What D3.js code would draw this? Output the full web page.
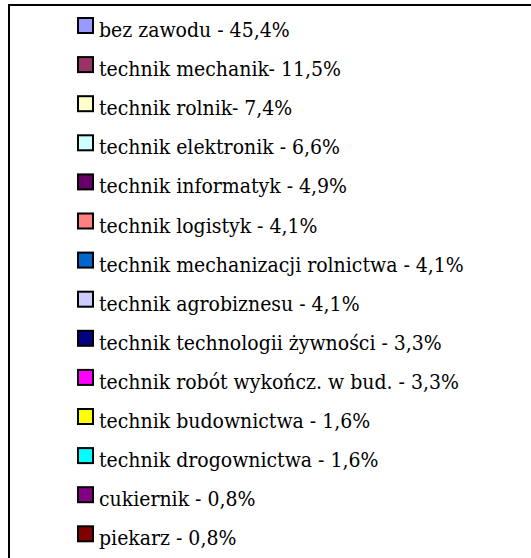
<!DOCTYPE html>
<html>
<head>
<meta charset="utf-8">
<script src="https://cdn.jsdelivr.net/npm/d3@7"></script>
<style>
  html, body { margin: 0; padding: 0; background: #fff; }
  svg { display: block; }
  .legend-text { font-family: "DejaVu Serif Condensed", "DejaVu Serif", serif; font-stretch: condensed; }
</style>
</head>
<body>
<svg id="chart" width="531" height="558"></svg>
<script>
// legend entries (name part keeps the original separator)
var names = [
  "bez zawodu -",
  "technik mechanik-",
  "technik rolnik-",
  "technik elektronik -",
  "technik informatyk -",
  "technik logistyk -",
  "technik mechanizacji rolnictwa -",
  "technik agrobiznesu -",
  "technik technologii żywności -",
  "technik robót wykończ. w bud. -",
  "technik budownictwa -",
  "technik drogownictwa -",
  "cukiernik -",
  "piekarz -"
];
var values = [45.4, 11.5, 7.4, 6.6, 4.9, 4.1, 4.1, 4.1, 3.3, 3.3, 1.6, 1.6, 0.8, 0.8];
var colors = [
  "#9999ff", "#993366", "#ffffcc", "#ccffff", "#660066", "#ff8080", "#0066cc",
  "#ccccff", "#000080", "#ff00ff", "#ffff00", "#00ffff", "#800080", "#800000"
];

var svg = d3.select("#chart");

var rowH = 39.1,
  topY = 6;

var y = d3.scaleBand()
  .domain(d3.range(names.length))
  .range([topY, topY + rowH * names.length]);

var color = d3.scaleOrdinal()
  .domain(d3.range(names.length))
  .range(colors);

var fmt = function (v) {
  return v.toFixed(1).replace(".", ",") + "%";
};

// legend frame, runs off the right and bottom of the picture
svg.append("rect")
  .attr("x", 9)
  .attr("y", 5)
  .attr("width", 560)
  .attr("height", 600)
  .attr("fill", "#fff")
  .attr("stroke", "#000")
  .attr("stroke-width", 2);

var rows = svg.selectAll("g.row")
  .data(d3.range(names.length))
  .enter()
  .append("g")
  .attr("class", "row")
  .attr("transform", function (d) {
    return "translate(0," + y(d) + ")";
  });

rows.append("rect")
  .attr("x", 78)
  .attr("y", 12)
  .attr("width", 15)
  .attr("height", 15)
  .attr("fill", function (d) { return color(d); })
  .attr("stroke", "#000")
  .attr("stroke-width", 2);

rows.append("text")
  .attr("class", "legend-text")
  .attr("x", 99)
  .attr("y", 31)
  .attr("font-size", "21px")
  .attr("fill", "#000")
  .text(function (d) {
    return names[d] + " " + fmt(values[d]);
  });
</script>
</body>
</html>
